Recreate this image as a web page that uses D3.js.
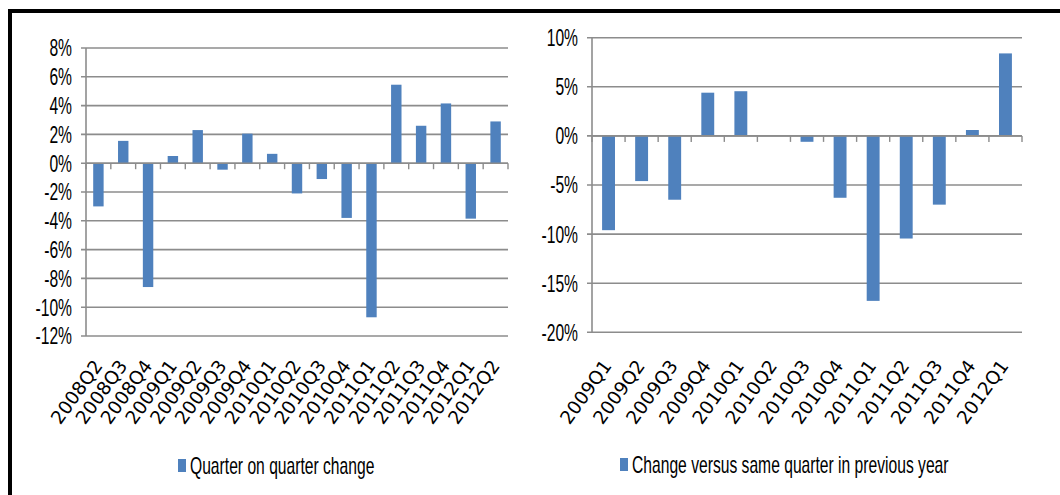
<!DOCTYPE html>
<html><head><meta charset="utf-8">
<script src="https://cdn.jsdelivr.net/npm/d3@7"></script>
<style>
body{margin:0;background:#fff}
svg{display:block}
text{font-family:"Liberation Sans",Arial,sans-serif;fill:#000}
text.xl{font-family:"DejaVu Sans",Verdana,sans-serif}
</style>
</head><body><svg id="c" width="1060" height="495"></svg>
<script>
const qoqCategories = ["2008Q2","2008Q3","2008Q4","2009Q1","2009Q2","2009Q3","2009Q4","2010Q1","2010Q2","2010Q3","2010Q4","2011Q1","2011Q2","2011Q3","2011Q4","2012Q1","2012Q2"];
const qoqValues = [-3.0,1.55,-8.6,0.5,2.3,-0.45,2.05,0.65,-2.1,-1.1,-3.8,-10.7,5.45,2.6,4.15,-3.85,2.9];
const qoqTicks = [8,6,4,2,0,-2,-4,-6,-8,-10,-12];
const qoqLegend = "Quarter on quarter change";

const yoyCategories = ["2009Q1","2009Q2","2009Q3","2009Q4","2010Q1","2010Q2","2010Q3","2010Q4","2011Q1","2011Q2","2011Q3","2011Q4","2012Q1"];
const yoyValues = [-9.6,-4.6,-6.5,4.4,4.55,0,-0.6,-6.3,-16.8,-10.45,-7.0,0.6,8.4];
const yoyTicks = [10,5,0,-5,-10,-15,-20];
const yoyLegend = "Change versus same quarter in previous year";

const BAR = "#4F81BD", GRID = "#8C8C8C";
const FS = 18, SX = 0.87, SY = 1.3;
const svg = d3.select("#c");

// frame
svg.append("path").attr("d","M10,495 L10,11 L1060,11")
  .attr("fill","none").attr("stroke","#000").attr("stroke-width",4);

function drawChart(cats, vals, ticks, legend, o) {
  const g = svg.append("g");
  const x = d3.scaleBand().domain(cats).range([o.x0, o.x1]).padding(0);
  const y = d3.scaleLinear().domain([d3.min(ticks), d3.max(ticks)]).range([o.yBot, o.yTop]);
  const bw = x.bandwidth() * o.barFrac;

  // gridlines
  g.selectAll("line.grid").data(ticks).join("line")
    .attr("x1", o.x0 - 5).attr("x2", o.x1)
    .attr("y1", d => y(d)).attr("y2", d => y(d))
    .attr("stroke", GRID).attr("stroke-width", 1.6);
  // y axis line
  g.append("line").attr("x1", o.x0).attr("x2", o.x0)
    .attr("y1", y(d3.max(ticks))).attr("y2", y(d3.min(ticks)))
    .attr("stroke", GRID).attr("stroke-width", 1.6);
  // y tick labels
  g.selectAll("text.yt").data(ticks).join("text")
    .attr("class","yt")
    .attr("transform", d => `translate(${o.labelX},${y(d)}) scale(${SX},${SY})`)
    .attr("text-anchor","end").attr("dy","0.36em")
    .style("font-size", FS + "px")
    .text(d => d + "%");

  // bars
  g.selectAll("rect.bar").data(vals).join("rect")
    .attr("x", (d,i) => x(cats[i]) + (x.bandwidth() - bw)/2)
    .attr("width", bw)
    .attr("y", d => y(Math.max(0,d)))
    .attr("height", d => Math.abs(y(d) - y(0)))
    .attr("fill", BAR);

  // x axis at zero + ticks at category boundaries
  g.append("line").attr("x1", o.x0).attr("x2", o.x1)
    .attr("y1", y(0)).attr("y2", y(0))
    .attr("stroke", GRID).attr("stroke-width", 1.6);
  const bounds = cats.map(c => x(c)).concat([o.x1]);
  g.selectAll("line.xt").data(bounds).join("line")
    .attr("x1", d => d).attr("x2", d => d)
    .attr("y1", y(0)).attr("y2", y(0) + 6)
    .attr("stroke", GRID).attr("stroke-width", 1.4);

  // category labels (rotated)
  g.selectAll("text.xl").data(cats).join("text")
    .attr("class","xl")
    .attr("transform", d => `translate(${x(d) + x.bandwidth()/2 + o.lblDx},${o.lblY}) rotate(-54)`)
    .attr("text-anchor","end")
    .style("font-size", "18.5px")
    .text(d => d);

  // legend
  g.append("rect").attr("x", o.legX).attr("y", o.legY).attr("width", 8).attr("height", 13).attr("fill", BAR);
  g.append("text")
    .attr("transform", `translate(${o.legX + 12},${o.legY + 6.5}) scale(${SX},${SY})`)
    .attr("dy","0.36em")
    .style("font-size", FS + "px")
    .text(legend);
}

drawChart(qoqCategories, qoqValues, qoqTicks, qoqLegend,
  {x0:86, x1:508, yTop:48, yBot:336, labelX:72, barFrac:0.42, lblDx:5, lblY:366, legX:178, legY:459});
drawChart(yoyCategories, yoyValues, yoyTicks, yoyLegend,
  {x0:592, x1:1022, yTop:37.7, yBot:332.3, labelX:578, barFrac:0.39, lblDx:4, lblY:366, legX:620, legY:458});
</script>
</body></html>
